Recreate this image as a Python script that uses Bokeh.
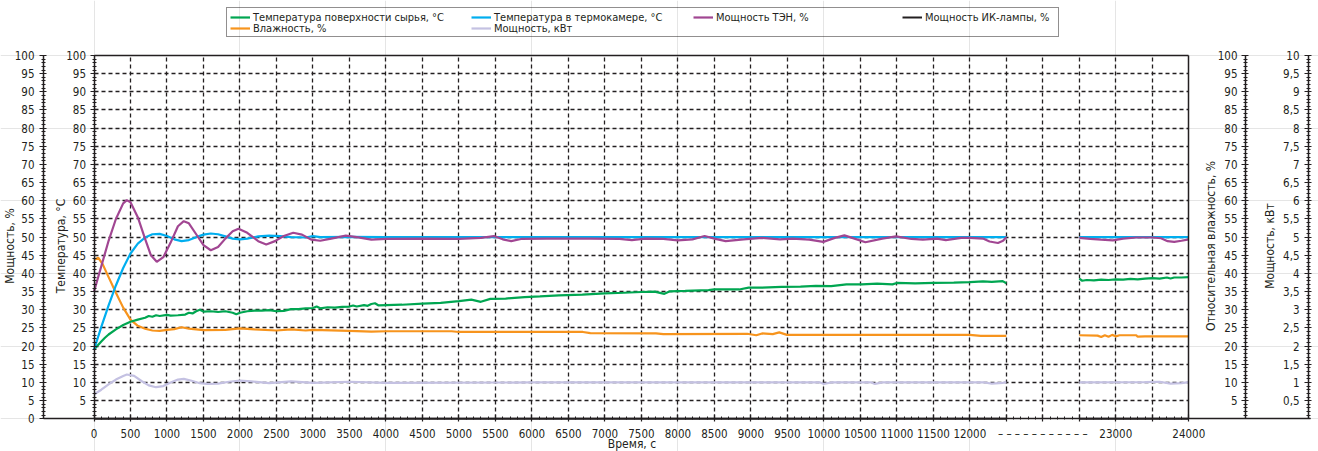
import math
from bokeh.plotting import figure
from bokeh.models import Range1d, LinearAxis, FixedTicker, Grid, Legend, LegendItem
from bokeh.embed import file_html
from bokeh.resources import INLINE

FONT = "DejaVu Sans Condensed, Roboto"
INK = "#231F20"

# ---------------- data (time in s) ----------------
surface_t1 = [0, 50, 100, 150, 200, 300, 400, 500, 600, 700, 750, 800, 850, 900, 1000, 1050, 1150, 1250,
              1300, 1350, 1400, 1450, 1500, 1600, 1700, 1800, 1900, 1950, 2000, 2100, 2200, 2300, 2400, 2500,
              2600, 2700, 2800, 2900, 3000, 3050, 3100, 3200, 3300, 3400, 3500, 3550, 3600, 3700, 3750, 3800,
              3850, 3900, 4220, 4500, 4750, 5000, 5170, 5300, 5430, 5640, 5900, 6110, 6370, 6690, 7000, 7260,
              7500, 7680, 7815, 7890, 8100, 8420, 8500, 8840, 8970, 9150, 9420, 9680, 9890, 10100, 10310,
              10520, 10730, 10940, 11000, 11250, 11510, 11780, 12000, 12180, 12300, 12450, 12500]
surface_v1 = [19.0, 20.2, 21.3, 22.3, 23.2, 24.6, 25.8, 26.7, 27.3, 27.8, 28.3, 28.1, 28.5, 28.3, 28.6, 28.4,
              28.5, 28.7, 29.2, 29.0, 29.6, 30.0, 29.5, 29.6, 29.4, 29.6, 29.2, 28.8, 29.2, 29.6, 29.8, 29.8,
              29.9, 29.6, 29.7, 30.2, 30.2, 30.4, 30.5, 30.9, 30.4, 30.7, 30.6, 30.8, 30.9, 31.2, 30.9, 31.3,
              31.1, 31.6, 31.8, 31.2, 31.4, 31.7, 31.9, 32.4, 32.8, 32.2, 33.0, 33.1, 33.5, 33.7, 34.0, 34.2,
              34.5, 34.7, 34.9, 35.0, 34.4, 35.1, 35.2, 35.4, 35.6, 35.6, 36.1, 36.1, 36.3, 36.4, 36.6, 36.5,
              37.0, 37.0, 37.2, 37.0, 37.4, 37.3, 37.4, 37.5, 37.6, 37.8, 37.7, 37.9, 37.3]
surface_t2 = [22500, 22540, 22600, 22700, 22800, 22900, 23000, 23100, 23200, 23300, 23400, 23500, 23600,
              23700, 23750, 23800, 23900, 24000]
surface_v2 = [38.6, 38.0, 38.2, 38.1, 38.3, 38.2, 38.4, 38.3, 38.5, 38.4, 38.6, 38.7, 38.6, 38.9, 38.6,
              38.9, 38.9, 39.0]

chamber_t1 = [0, 100, 200, 300, 400, 500, 600, 700, 800, 900, 1000, 1100, 1200, 1300, 1400, 1500, 1600,
              1700, 1800, 1900, 2000, 2100, 2250, 2400, 2550, 2700, 2900, 3000, 3100, 3500, 4000, 8000, 12500]
chamber_v1 = [19.0, 25.3, 31.2, 36.7, 41.5, 45.5, 48.2, 49.9, 50.8, 50.9, 50.3, 49.4, 48.9, 49.2, 50.0,
              50.7, 51.0, 50.8, 50.2, 49.6, 49.4, 49.6, 50.2, 50.4, 50.3, 50.0, 49.9, 50.3, 50.0, 50.1, 50.0,
              50.0, 50.0]
chamber_t2 = [22500, 24000]
chamber_v2 = [50.0, 50.0]

heater_t1 = [0, 100, 200, 300, 400, 450, 500, 600, 700, 780, 860, 950, 1050, 1150, 1230, 1300, 1400, 1500,
             1600, 1700, 1800, 1900, 1980, 2100, 2250, 2360, 2480, 2600, 2730, 2850, 2980, 3100, 3250, 3450,
             3600, 3800, 4000, 4500, 5000, 5300, 5480, 5600, 5716, 5850, 6200, 6800, 7200, 7369, 7550, 7800,
             7998, 8200, 8366, 8500, 8654, 8900, 9153, 9400, 9572, 9800, 9992, 10150, 10281, 10420, 10569,
             10800, 10989, 11200, 11356, 11550, 11671, 11881, 12000, 12180, 12270, 12385, 12455, 12500]
heater_v1 = [35.0, 42.0, 49.0, 55.0, 59.3, 60.2, 59.6, 55.5, 49.5, 45.0, 43.2, 44.5, 48.5, 53.0, 54.4,
             53.8, 50.8, 47.8, 46.4, 47.3, 49.6, 51.6, 52.3, 51.2, 48.9, 48.0, 48.9, 50.3, 51.2, 50.7, 49.3,
             49.0, 49.6, 50.4, 50.0, 49.3, 49.5, 49.6, 49.5, 49.8, 50.3, 49.4, 48.9, 49.5, 49.6, 49.6, 49.5,
             49.2, 49.6, 49.5, 49.1, 49.4, 50.3, 49.6, 48.9, 49.4, 49.8, 49.4, 49.6, 49.3, 48.7, 49.8, 50.5,
             49.6, 48.6, 49.6, 50.2, 49.5, 49.3, 49.6, 49.2, 49.8, 49.8, 49.6, 48.8, 48.4, 49.0, 50.0]
heater_t2 = [22500, 22650, 22800, 22960, 23100, 23280, 23500, 23620, 23710, 23800, 23900, 24000]
heater_v2 = [49.8, 49.5, 49.3, 49.1, 49.6, 49.9, 49.9, 49.7, 48.9, 48.7, 49.0, 49.4]

lamp_t1 = [0, 12500]
lamp_v1 = [0.0, 0.0]
lamp_t2 = [22500, 24000]
lamp_v2 = [0.0, 0.0]

humidity_t1 = [0, 60, 120, 200, 300, 400, 500, 600, 700, 800, 900, 1000, 1100, 1200, 1300, 1500, 1800,
               2000, 2200, 2500, 2700, 2900, 3000, 3500, 3800, 4000, 4900, 5000, 6700, 6800, 7700, 7800,
               8950, 9074, 9153, 9300, 9389, 9494, 10500, 12000, 12150, 12500]
humidity_v1 = [43.8, 44.3, 42.5, 39.0, 34.7, 30.6, 27.3, 25.6, 24.8, 24.3, 24.2, 24.5, 24.7, 25.2, 24.8,
               24.4, 24.5, 24.9, 24.6, 24.3, 24.6, 24.3, 24.5, 24.2, 24.0, 24.1, 24.1, 23.9, 23.9, 23.6,
               23.5, 23.3, 23.4, 23.0, 23.5, 23.3, 23.8, 23.1, 23.1, 23.1, 22.8, 22.8]
humidity_t2 = [22500, 22750, 22800, 22850, 22900, 22950, 23000, 23050, 23280, 23300, 23400, 24000]
humidity_v2 = [23.0, 22.9, 22.5, 23.0, 22.6, 23.1, 22.7, 23.0, 23.0, 22.6, 22.7, 22.7]

power_t1 = [0, 100, 200, 300, 400, 450, 550, 650, 750, 850, 950, 1050, 1150, 1230, 1350, 1450, 1550, 1700,
            1850, 2000, 2150, 2400, 2700, 3000, 3500, 4000, 6000, 8000, 9950, 10000, 10100, 10650, 10700,
            10800, 12200, 12300, 12450, 12500]
power_v1 = [0.67, 0.80, 0.95, 1.08, 1.18, 1.22, 1.18, 1.04, 0.92, 0.87, 0.90, 1.00, 1.08, 1.10, 1.04, 0.98,
            0.96, 0.97, 1.02, 1.05, 1.03, 0.98, 1.03, 0.99, 1.02, 0.99, 1.00, 1.00, 1.00, 0.96, 1.00, 1.00,
            0.96, 1.00, 1.00, 0.97, 0.99, 1.01]
power_t2 = [22500, 23400, 23600, 23750, 23900, 24000]
power_v2 = [1.00, 1.01, 1.02, 0.97, 0.98, 1.01]

# broken time axis: 0..12500 s shown as is, 22500..24000 s shown after a gap of two ticks
SEG1_END = 12500
SEG2_START = 22500
SEG2_AXIS = 13500

x_tick_values = list(range(0, 15001, 500))
x_tick_labels = [str(v) for v in range(0, 12001, 500)] + ["", "– – – – – – – – – – –", "", "23000", "", "24000"]
x_minor_values = list(range(0, 15001, 100))

pct_ticks = list(range(0, 101, 5))
pct_minor = list(range(0, 101, 1))
kw_ticks = [0.5 * i for i in range(1, 21)]
kw_labels = ["0,5", "1", "1,5", "2", "2,5", "3", "3,5", "4", "4,5", "5",
             "5,5", "6", "6,5", "7", "7,5", "8", "8,5", "9", "9,5", "10"]
kw_minor = [round(0.1 * i, 1) for i in range(0, 101)]


def to_axis(t):
    return t if t <= SEG1_END else t - SEG2_START + SEG2_AXIS


def series(t1, v1, t2, v2):
    xs = [to_axis(t) for t in t1] + [math.nan] + [to_axis(t) for t in t2]
    ys = list(v1) + [math.nan] + list(v2)
    return xs, ys


# ---------------- figure (frame covers the whole canvas) ----------------
W, H = 1318, 451
PX0, PX15 = 93.5, 1188.3          # pixel of axis value 0 and 15000
PY0, PY100 = 418.3, 55.0          # pixel of value 0 and 100
KX = (PX15 - PX0) / 15000.0
KY = (PY0 - PY100) / 100.0
X0, X1 = (0 - PX0) / KX, (W - PX0) / KX
Y0, Y1 = (PY0 - H) / KY, PY0 / KY

p = figure(width=W, height=H, output_backend="svg", toolbar_location=None,
           x_range=Range1d(X0, X1), y_range=Range1d(Y0, Y1),
           x_axis_location=None, y_axis_location=None,
           min_border_left=0, min_border_right=0, min_border_top=0, min_border_bottom=0)
p.extra_y_ranges = {"kw": Range1d(Y0 / 10.0, Y1 / 10.0)}
p.outline_line_color = None
p.background_fill_color = "white"
p.border_fill_color = "white"

LOC_OUTER = (43 - PX0) / KX
LOC_R1 = (1245 - PX0) / KX
LOC_R2 = (1308 - PX0) / KX
LOC_XEND = (1310 - PX0) / KX

TICK_FONT = "11.5px"


def style_axis(ax, standoff=4):
    ax.axis_line_color = INK
    ax.axis_line_width = 1.5
    ax.major_tick_line_color = INK
    ax.major_tick_line_width = 1.2
    ax.minor_tick_line_color = INK
    ax.minor_tick_line_width = 1
    ax.major_tick_in = 3
    ax.major_tick_out = 4
    ax.minor_tick_in = 2
    ax.minor_tick_out = 2
    ax.major_label_text_font = FONT
    ax.major_label_text_font_size = TICK_FONT
    ax.major_label_text_color = INK
    ax.major_label_standoff = standoff
    return ax


def title_axis(loc, text, standoff, rng="default", bounds=(0, 95)):
    return LinearAxis(fixed_location=loc, y_range_name=rng, ticker=FixedTicker(ticks=[]), bounds=bounds,
                      axis_line_color=None, major_tick_in=0, major_tick_out=0, minor_tick_in=0,
                      minor_tick_out=0, axis_label=text, axis_label_standoff=standoff,
                      axis_label_text_font=FONT, axis_label_text_font_size="12px",
                      axis_label_text_font_style="normal", axis_label_text_color=INK)


def bare_axis(loc, bounds):
    return LinearAxis(fixed_location=loc, bounds=bounds, ticker=FixedTicker(ticks=[]), axis_line_color=INK,
                      axis_line_width=1.5, major_tick_in=0, major_tick_out=0, minor_tick_in=0,
                      minor_tick_out=0)


# left outer: power %
p.add_layout(style_axis(LinearAxis(fixed_location=LOC_OUTER, bounds=(0, 100),
                                   ticker=FixedTicker(ticks=pct_ticks, minor_ticks=pct_minor)), 5), "left")
p.add_layout(title_axis(LOC_OUTER, "Мощность, %", 27), "left")
# left inner: temperature
p.add_layout(style_axis(LinearAxis(fixed_location=0, bounds=(0, 100),
                                   ticker=FixedTicker(ticks=pct_ticks[1:], minor_ticks=pct_minor)), 4), "left")
p.add_layout(title_axis(0, "Температура, °C", 27), "left")
# right 1: relative humidity
p.add_layout(style_axis(LinearAxis(fixed_location=LOC_R1, bounds=(0, 100),
                                   ticker=FixedTicker(ticks=pct_ticks[1:], minor_ticks=pct_minor)), 4), "left")
p.add_layout(title_axis(LOC_R1, "Относительная влажность, %", 28), "left")
# right 2: power kW
p.add_layout(style_axis(LinearAxis(fixed_location=LOC_R2, y_range_name="kw", bounds=(0, 10),
                                   ticker=FixedTicker(ticks=kw_ticks, minor_ticks=kw_minor),
                                   major_label_overrides=dict(zip(kw_ticks, kw_labels))), 5), "left")
p.add_layout(title_axis(LOC_R2, "Мощность, кВт", 32, rng="kw", bounds=(0, 9.5)), "left")

# frame right and top edges
p.add_layout(bare_axis(15000, (0, 100)), "right")
p.add_layout(bare_axis(100, (0, 15000)), "above")

# x axis
ax_x = style_axis(LinearAxis(fixed_location=0, bounds=(LOC_OUTER, LOC_XEND),
                             ticker=FixedTicker(ticks=x_tick_values, minor_ticks=x_minor_values),
                             major_label_overrides=dict(zip(x_tick_values, x_tick_labels))), 5)
ax_x.major_tick_in = 4
ax_x.major_tick_out = 3
ax_x.minor_tick_in = 2
ax_x.minor_tick_out = 1
p.add_layout(ax_x, "below")
p.add_layout(LinearAxis(fixed_location=0, bounds=(0, 14730), ticker=FixedTicker(ticks=[]),
                        axis_line_color=None, major_tick_in=0, major_tick_out=0, minor_tick_in=0,
                        minor_tick_out=0, axis_label="Время, с", axis_label_standoff=18,
                        axis_label_text_font=FONT, axis_label_text_font_size="12px",
                        axis_label_text_font_style="normal", axis_label_text_color=INK), "below")

# grids
xgrid = Grid(dimension=0, ticker=FixedTicker(ticks=x_tick_values[1:-1]), cross_bounds=(0, 100),
             grid_line_color=INK, grid_line_width=1.3, grid_line_dash="4 3")
ygrid = Grid(dimension=1, ticker=FixedTicker(ticks=pct_ticks[1:-1]), cross_bounds=(0, 15000),
             grid_line_color=INK, grid_line_width=1.3, grid_line_dash="4 3")
p.add_layout(xgrid)
p.add_layout(ygrid)

# ---------------- lines ----------------
GREEN = "#00A651"
BLUE = "#00AEEF"
PURPLE = "#A14692"
BLACK = "#231F20"
ORANGE = "#F7941D"
LAVENDER = "#C4C1E2"

x, y = series(power_t1, power_v1, power_t2, power_v2)
r_power = p.line(x, y, line_color=LAVENDER, line_width=2.2, y_range_name="kw")
x, y = series(humidity_t1, humidity_v1, humidity_t2, humidity_v2)
r_hum = p.line(x, y, line_color=ORANGE, line_width=2.2)
x, y = series(surface_t1, surface_v1, surface_t2, surface_v2)
r_surf = p.line(x, y, line_color=GREEN, line_width=2.2)
x, y = series(chamber_t1, chamber_v1, chamber_t2, chamber_v2)
r_cham = p.line(x, y, line_color=BLUE, line_width=2.2)
x, y = series(heater_t1, heater_v1, heater_t2, heater_v2)
r_heat = p.line(x, y, line_color=PURPLE, line_width=2.2)
x, y = series(lamp_t1, lamp_v1, lamp_t2, lamp_v2)
r_lamp = p.line(x, y, line_color=BLACK, line_width=2)

# ---------------- legend ----------------
box_dummy = p.line([0, 0], [0, 0], line_alpha=0)
box = Legend(items=[LegendItem(label="", renderers=[box_dummy])], location=(226, H - 37),
             padding=0, margin=0, spacing=0, glyph_width=0, glyph_height=28, label_height=28,
             label_width=831, label_standoff=0, border_line_color=INK, border_line_width=1,
             background_fill_alpha=0, label_text_font=FONT, label_text_font_size="11px")
p.add_layout(box)

entries = [
    ("Температура поверхности сырья, °C", r_surf, 230, 17),
    ("Температура в термокамере, °C", r_cham, 471, 17),
    ("Мощность ТЭН, %", r_heat, 693, 17),
    ("Мощность ИК-лампы, %", r_lamp, 902, 17),
    ("Влажность, %", r_hum, 230, 28),
    ("Мощность, кВт", r_power, 471, 28),
]
for label, rend, lx, cy in entries:
    lg = Legend(items=[LegendItem(label=label, renderers=[rend])], location=(lx, H - (cy + 8)),
                padding=0, margin=0, spacing=0, glyph_width=20, glyph_height=16, label_height=16,
                label_standoff=3, border_line_color=None, background_fill_alpha=0,
                label_text_font=FONT, label_text_font_size="11px", label_text_color=INK)
    p.add_layout(lg)

open("out.html", "w").write(file_html(p, INLINE))
